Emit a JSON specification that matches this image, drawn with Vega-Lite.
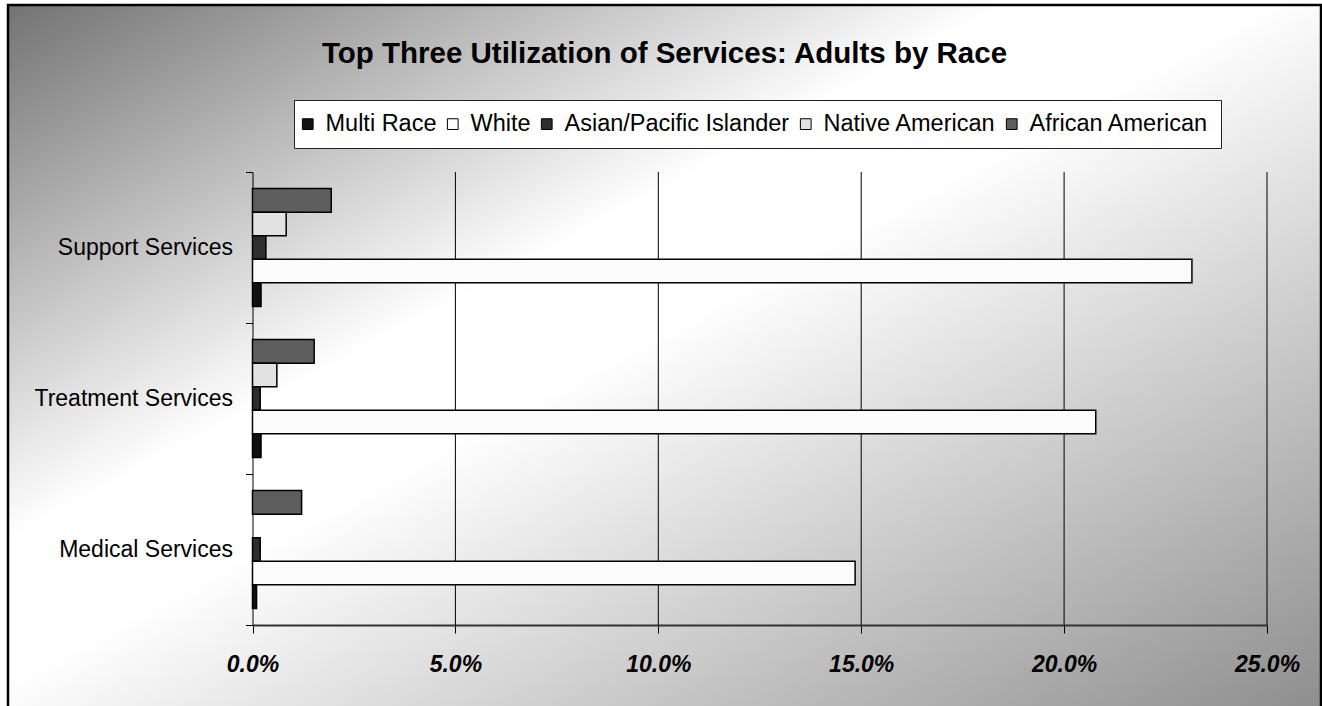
{
  "$schema": "https://vega.github.io/schema/vega-lite/v6.json",
  "autosize": {"type": "fit", "contains": "padding"},
  "width": 1322,
  "height": 706,
  "padding": {"left": 8, "top": 5, "right": 1, "bottom": -3},
  "background": "white",
  "view": {
    "fill": {
      "gradient": "linear",
      "x1": 0, "y1": 0, "x2": 1, "y2": 1,
      "stops": [
        {"offset": 0, "color": "#737373"},
        {"offset": 0.38, "color": "#ffffff"},
        {"offset": 0.48, "color": "#ffffff"},
        {"offset": 1, "color": "#8e8e8e"}
      ]
    },
    "stroke": "black",
    "strokeWidth": 2.5
  },
  "title": {
    "text": "Top Three Utilization of Services: Adults by Race",
    "font": "Liberation Sans",
    "fontSize": 29.5,
    "fontWeight": "bold",
    "color": "black",
    "anchor": "middle",
    "frame": "group",
    "baseline": "alphabetic",
    "offset": -87.5
  },
  "resolve": {"scale": {"y": "independent"}},
  "layer": [
    {
      "data": {"values": [{"g": 0.05}, {"g": 0.1}, {"g": 0.15}, {"g": 0.2}, {"g": 0.25}]},
      "mark": {"type": "rule", "color": "black", "strokeWidth": 1},
      "encoding": {
        "x": {
          "field": "g",
          "type": "quantitative",
          "scale": {"domain": [0, 0.25], "range": [244.5, 1259], "nice": false, "zero": true},
          "axis": {
            "title": null,
            "offset": -84,
            "values": [0, 0.05, 0.1, 0.15, 0.2, 0.25],
            "format": ".1%",
            "grid": false,
            "tickSize": 8,
            "tickColor": "black",
            "tickWidth": 1,
            "domainColor": "#333333",
            "domainWidth": 2,
            "labelFont": "Liberation Sans",
            "labelFontSize": 23,
            "labelFontWeight": "bold",
            "labelFontStyle": "italic",
            "labelColor": "black",
            "labelPadding": 20,
            "labelFlush": false,
            "labelOverlap": false
          }
        },
        "y": {
          "datum": 0,
          "type": "quantitative",
          "scale": {"domain": [0, 1], "range": [167, 620], "nice": false, "zero": false},
          "axis": {
            "orient": "left",
            "offset": -244.5,
            "values": [0, 0.333333, 0.666667, 1],
            "labels": false,
            "ticks": true,
            "tickSize": 7,
            "tickColor": "black",
            "tickWidth": 1,
            "domain": true,
            "domainColor": "black",
            "domainWidth": 1,
            "grid": false,
            "title": null
          }
        },
        "y2": {"datum": 1}
      }
    },
    {
      "data": {
        "values": [
          {"service": "Support Services", "race": "African American", "pct": 0.0194},
          {"service": "Support Services", "race": "Native American", "pct": 0.0083},
          {"service": "Support Services", "race": "Asian/Pacific Islander", "pct": 0.0033},
          {"service": "Support Services", "race": "White", "pct": 0.2315},
          {"service": "Support Services", "race": "Multi Race", "pct": 0.0021},
          {"service": "Treatment Services", "race": "African American", "pct": 0.0152},
          {"service": "Treatment Services", "race": "Native American", "pct": 0.0060},
          {"service": "Treatment Services", "race": "Asian/Pacific Islander", "pct": 0.0019},
          {"service": "Treatment Services", "race": "White", "pct": 0.2078},
          {"service": "Treatment Services", "race": "Multi Race", "pct": 0.0021},
          {"service": "Medical Services", "race": "African American", "pct": 0.0121},
          {"service": "Medical Services", "race": "Asian/Pacific Islander", "pct": 0.0019},
          {"service": "Medical Services", "race": "White", "pct": 0.1485},
          {"service": "Medical Services", "race": "Multi Race", "pct": 0.0010}
        ]
      },
      "mark": {"type": "bar", "stroke": "black", "strokeWidth": 1.5},
      "encoding": {
        "y": {
          "field": "service",
          "type": "nominal",
          "sort": ["Support Services", "Treatment Services", "Medical Services"],
          "scale": {"range": [167, 620], "paddingInner": 0.22, "paddingOuter": 0.11},
          "axis": {
            "orient": "left",
            "title": null,
            "offset": -244.5,
            "domain": false,
            "ticks": false,
            "labelFont": "Liberation Sans",
            "labelFontSize": 23,
            "labelColor": "black",
            "labelPadding": 20,
            "labelLimit": 400,
            "grid": false
          }
        },
        "yOffset": {
          "field": "race",
          "type": "nominal",
          "sort": ["African American", "Native American", "Asian/Pacific Islander", "White", "Multi Race"],
          "scale": {"paddingInner": 0, "paddingOuter": 0}
        },
        "x": {
          "field": "pct",
          "type": "quantitative",
          "scale": {"domain": [0, 0.25], "range": [244.5, 1259], "nice": false, "zero": true},
          "axis": {
            "title": null,
            "offset": -84,
            "values": [0, 0.05, 0.1, 0.15, 0.2, 0.25],
            "format": ".1%",
            "grid": false,
            "tickSize": 8,
            "tickColor": "black",
            "tickWidth": 1,
            "domainColor": "#333333",
            "domainWidth": 2,
            "labelFont": "Liberation Sans",
            "labelFontSize": 23,
            "labelFontWeight": "bold",
            "labelFontStyle": "italic",
            "labelColor": "black",
            "labelPadding": 20,
            "labelFlush": false,
            "labelOverlap": false
          }
        },
        "color": {
          "field": "race",
          "type": "nominal",
          "scale": {
            "domain": ["Multi Race", "White", "Asian/Pacific Islander", "Native American", "African American"],
            "range": ["#111111", "#fbfbfb", "#2e2e2e", "#e2e2e2", "#5e5e5e"]
          },
          "legend": {
            "title": null,
            "orient": "none",
            "legendX": 286,
            "legendY": 95,
            "direction": "horizontal",
            "fillColor": "white",
            "strokeColor": "#222222",
            "padding": 12,
            "labelFont": "Liberation Sans",
            "labelFontSize": 23.5,
            "labelColor": "black",
            "labelLimit": 400,
            "labelOffset": 6,
            "columnPadding": 8,
            "symbolOffset": -10,
            "symbolType": "square",
            "symbolSize": 115,
            "symbolStrokeColor": "black",
            "symbolStrokeWidth": 1,
            "symbolOpacity": 1
          }
        }
      }
    }
  ]
}
